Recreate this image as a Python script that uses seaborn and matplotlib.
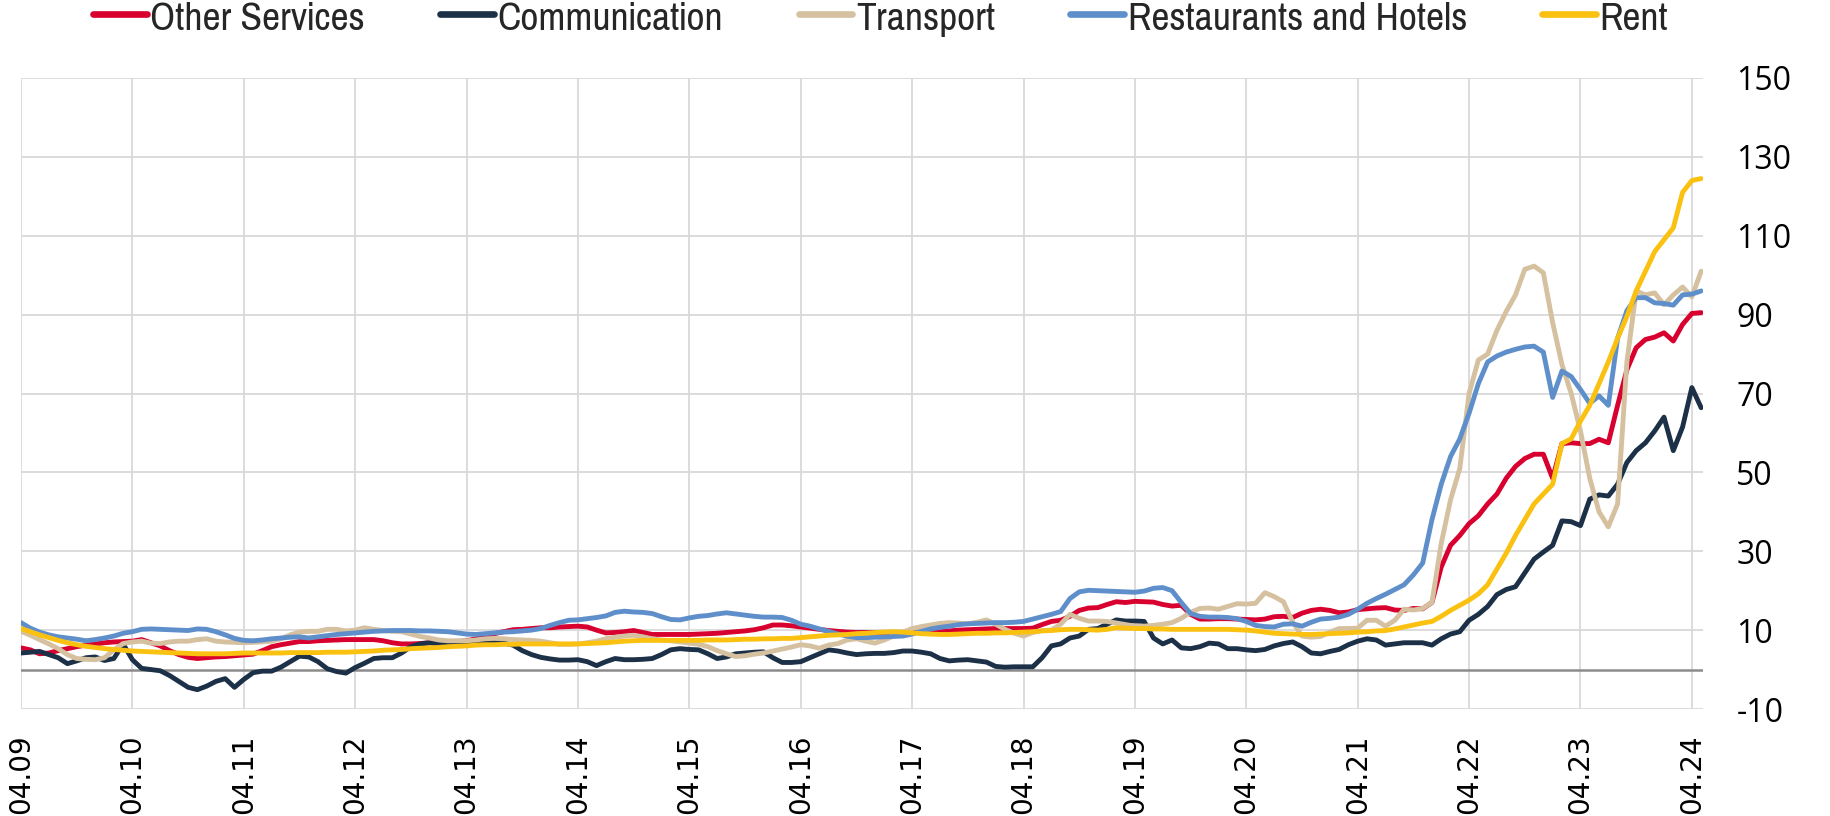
import numpy as np
import pandas as pd
import matplotlib
matplotlib.use("Agg")
import matplotlib.pyplot as plt
from matplotlib import font_manager as fm
import seaborn as sns

# ---------------- data (monthly, 04.09 .. 05.24) ----------------
start_month = "2009-04"
n_months = 182

other_services = [
    5.5, 5.0, 4.0, 4.2, 4.8, 5.3, 5.8, 6.2, 6.5, 6.8, 7.0, 7.1,
    7.2, 7.6, 6.8, 6.0, 4.8, 3.8, 3.1, 2.8, 3.0, 3.2, 3.3, 3.5,
    3.7, 3.9, 4.8, 5.8, 6.3, 6.7, 7.1, 7.1, 7.3, 7.4, 7.5, 7.6,
    7.6, 7.6, 7.6, 7.3, 6.8, 6.5, 6.5, 6.6, 6.8, 6.9, 7.0, 7.1,
    7.3, 7.8, 8.5, 9.1, 9.6, 10.1, 10.2, 10.4, 10.6, 10.6, 10.8, 10.9,
    11.0, 10.8, 10.0, 9.3, 9.4, 9.6, 9.9, 9.4, 8.9, 8.9, 8.9, 8.9,
    8.9, 9.0, 9.1, 9.2, 9.4, 9.6, 9.8, 10.1, 10.6, 11.3, 11.3, 11.1,
    10.8, 10.5, 10.2, 9.9, 9.7, 9.5, 9.4, 9.4, 9.4, 9.3, 9.3, 9.3,
    9.4, 9.5, 9.6, 9.6, 9.8, 10.0, 10.1, 10.2, 10.3, 10.4, 10.4, 10.4,
    10.4, 10.5, 11.4, 12.2, 12.5, 13.5, 15.0, 15.6, 15.7, 16.5, 17.2, 17.0,
    17.3, 17.2, 17.1, 16.5, 16.1, 16.3, 14.0, 12.8, 12.8, 12.9, 12.9, 12.8,
    12.7, 12.6, 12.8, 13.4, 13.5, 13.2, 14.3, 15.0, 15.3, 15.0, 14.4, 14.6,
    15.2, 15.4, 15.6, 15.7, 15.1, 15.0, 15.5, 15.4, 17.0, 26.0, 31.5, 34.0,
    37.0, 39.0, 42.0, 44.5, 48.5, 51.5, 53.5, 54.6, 54.6, 48.5, 57.3, 57.5,
    57.3, 57.3, 58.4, 57.5, 67.0, 76.0, 81.6, 83.7, 84.3, 85.4, 83.3, 87.5,
    90.3, 90.5,
]

communication = [
    4.2, 4.4, 4.6, 3.8, 3.0, 1.5, 2.2, 3.0, 3.2, 2.3, 2.8, 6.5,
    2.5, 0.3, 0.0, -0.3, -1.5, -3.0, -4.5, -5.1, -4.2, -3.0, -2.3, -4.5,
    -2.5, -0.8, -0.4, -0.4, 0.6, 2.0, 3.4, 3.2, 2.0, 0.2, -0.5, -0.9,
    0.5, 1.6, 2.8, 3.0, 3.0, 4.2, 5.8, 6.5, 6.8, 6.5, 6.4, 6.6,
    6.8, 7.0, 7.2, 7.0, 6.7, 6.2, 4.8, 3.8, 3.1, 2.7, 2.4, 2.4,
    2.5, 2.0, 1.0, 2.0, 2.8, 2.5, 2.5, 2.6, 2.8, 3.8, 5.0, 5.3,
    5.1, 5.0, 4.0, 2.8, 3.2, 4.0, 4.2, 4.4, 4.5, 3.0, 1.8, 1.8,
    2.0, 3.0, 4.0, 5.0, 4.7, 4.2, 3.8, 4.0, 4.1, 4.1, 4.3, 4.7,
    4.7, 4.4, 4.0, 2.8, 2.2, 2.4, 2.5, 2.2, 1.9, 0.8, 0.6, 0.7,
    0.7, 0.7, 3.0, 6.0, 6.5, 8.0, 8.5, 10.2, 10.4, 11.5, 12.6, 12.3,
    12.3, 12.2, 8.0, 6.5, 7.5, 5.5, 5.3, 5.8, 6.7, 6.5, 5.3, 5.3,
    5.0, 4.8, 5.1, 6.0, 6.6, 7.0, 5.8, 4.2, 4.0, 4.6, 5.1, 6.3,
    7.2, 7.8, 7.5, 6.2, 6.5, 6.8, 6.8, 6.8, 6.2, 7.8, 9.0, 9.6,
    12.5, 14.0, 16.0, 19.0, 20.3, 21.0, 24.5, 28.0, 29.8, 31.5, 37.7, 37.5,
    36.5, 43.2, 44.3, 44.0, 47.0, 52.5, 55.5, 57.5, 60.5, 64.0, 55.5, 61.5,
    71.5, 66.4,
]

transport = [
    9.7, 8.7, 7.6, 6.5, 5.3, 3.8, 2.8, 2.6, 2.5, 3.0, 5.0, 6.6,
    7.0, 7.2, 6.7, 6.6, 7.0, 7.2, 7.2, 7.6, 7.8, 7.2, 7.0, 6.9,
    6.8, 6.9, 7.0, 7.2, 7.8, 8.8, 9.5, 9.7, 9.7, 10.2, 10.2, 9.8,
    10.0, 10.6, 10.2, 9.9, 9.7, 9.6, 9.0, 8.4, 8.0, 7.5, 7.3, 7.3,
    7.3, 7.5, 7.8, 7.9, 7.8, 7.6, 7.5, 7.4, 7.2, 6.8, 6.4, 6.4,
    6.5, 6.8, 7.2, 7.8, 8.2, 8.5, 8.7, 8.3, 7.8, 7.5, 7.3, 7.0,
    6.7, 6.4, 5.8, 4.8, 4.0, 3.3, 3.5, 3.9, 4.2, 4.7, 5.2, 5.7,
    6.3, 6.0, 5.4, 6.2, 6.6, 7.5, 7.8, 7.2, 6.7, 7.5, 8.5, 9.5,
    10.4, 10.9, 11.3, 11.7, 11.9, 11.8, 11.6, 12.0, 12.6, 11.5, 10.2, 9.2,
    8.5, 9.4, 9.9, 10.0, 11.5, 14.0, 13.0, 12.3, 12.3, 12.2, 11.8, 11.4,
    11.0, 11.0, 11.2, 11.5, 11.9, 13.0, 14.5, 15.5, 15.6, 15.3, 16.0, 16.7,
    16.6, 16.8, 19.5, 18.5, 17.2, 12.0, 8.5, 8.2, 8.4, 9.5, 10.4, 10.4,
    10.5, 12.5, 12.5, 11.0, 12.5, 15.3, 15.1, 15.5, 17.0, 32.0, 43.0, 51.0,
    70.0, 78.5, 80.0, 86.0, 90.8, 95.0, 101.5, 102.3, 100.6, 88.0, 77.4, 70.0,
    60.5, 48.5, 40.0, 36.2, 42.0, 78.0, 96.0, 95.0, 95.5, 92.5, 95.0, 97.0,
    94.5, 101.0,
]

restaurants_hotels = [
    11.9, 10.5, 9.5, 8.8, 8.3, 8.0, 7.7, 7.3, 7.6, 8.0, 8.5, 9.2,
    9.6, 10.2, 10.3, 10.2, 10.1, 10.0, 9.9, 10.3, 10.2, 9.6, 8.8, 7.9,
    7.4, 7.3, 7.5, 7.8, 8.0, 8.2, 8.3, 8.0, 8.3, 8.6, 8.9, 9.1,
    9.3, 9.5, 9.7, 9.8, 9.9, 9.9, 9.9, 9.8, 9.8, 9.7, 9.6, 9.3,
    9.0, 8.9, 9.1, 9.3, 9.5, 9.6, 9.8, 10.0, 10.4, 11.2, 11.9, 12.5,
    12.6, 12.9, 13.2, 13.6, 14.5, 14.8, 14.6, 14.5, 14.2, 13.4, 12.7, 12.6,
    13.1, 13.5, 13.7, 14.1, 14.4, 14.1, 13.8, 13.5, 13.3, 13.3, 13.2, 12.5,
    11.5, 11.0, 10.3, 9.7, 9.0, 8.5, 8.1, 8.1, 8.2, 8.3, 8.4, 8.5,
    9.0, 9.7, 10.3, 10.7, 11.0, 11.4, 11.6, 11.7, 11.8, 11.9, 11.9, 12.0,
    12.2, 12.8, 13.4, 14.0, 14.7, 18.0, 19.7, 20.1, 20.0, 19.9, 19.8, 19.7,
    19.6, 19.9, 20.6, 20.8, 20.0, 17.0, 14.2, 13.5, 13.3, 13.3, 13.2, 12.9,
    12.2, 11.2, 10.9, 10.8, 11.5, 11.6, 11.0, 12.0, 12.8, 13.0, 13.3, 14.0,
    15.3, 16.8, 18.0, 19.1, 20.3, 21.5, 24.0, 27.0, 38.0, 47.0, 54.0, 58.5,
    65.0, 72.5, 78.0, 79.5, 80.5, 81.2, 81.8, 82.0, 80.5, 69.0, 75.7, 74.3,
    71.0, 67.5, 69.4, 67.0, 84.0, 91.0, 94.3, 94.3, 93.0, 92.8, 92.4, 95.0,
    95.2, 96.0,
]

rent = [
    10.4, 9.6, 8.8, 8.1, 7.4, 6.8, 6.3, 5.9, 5.6, 5.3, 5.1, 4.9,
    4.7, 4.6, 4.5, 4.4, 4.3, 4.2, 4.1, 4.0, 4.0, 4.0, 4.0, 4.1,
    4.2, 4.2, 4.2, 4.2, 4.2, 4.3, 4.3, 4.3, 4.3, 4.4, 4.4, 4.4,
    4.5, 4.6, 4.7, 4.9, 5.0, 5.1, 5.3, 5.4, 5.5, 5.6, 5.8, 5.9,
    6.0, 6.2, 6.3, 6.3, 6.4, 6.4, 6.5, 6.5, 6.5, 6.5, 6.5, 6.5,
    6.5, 6.6, 6.7, 6.8, 7.0, 7.2, 7.3, 7.4, 7.4, 7.4, 7.4, 7.4,
    7.4, 7.4, 7.5, 7.5, 7.5, 7.6, 7.7, 7.7, 7.8, 7.8, 7.9, 7.9,
    8.1, 8.3, 8.5, 8.7, 8.8, 8.9, 9.1, 9.2, 9.4, 9.5, 9.6, 9.5,
    9.3, 9.1, 9.0, 8.9, 8.9, 9.0, 9.1, 9.2, 9.2, 9.3, 9.3, 9.4,
    9.5, 9.6, 9.8, 9.9, 10.1, 10.2, 10.2, 10.1, 10.0, 10.2, 10.6, 10.5,
    10.4, 10.4, 10.3, 10.3, 10.2, 10.2, 10.2, 10.2, 10.2, 10.2, 10.2, 10.1,
    10.0, 9.8, 9.5, 9.2, 9.1, 9.0, 8.9, 8.9, 9.0, 9.1, 9.2, 9.3,
    9.5, 9.6, 9.8, 9.9, 10.3, 10.8, 11.3, 11.8, 12.2, 13.5, 15.0, 16.3,
    17.6, 19.2, 21.5, 25.5, 29.5, 34.0, 38.0, 42.0, 44.5, 47.0, 57.3, 58.5,
    63.0, 67.0, 72.5, 78.0, 84.0, 89.5, 96.0, 101.0, 106.0, 109.0, 112.0, 121.0,
    124.0, 124.5,
]

series_names = ["Other Services", "Communication", "Transport",
                "Restaurants and Hotels", "Rent"]
series_colors = ["#D8002E", "#1C3047", "#D5C19F", "#5F8FCB", "#FAC111"]
y_ticks = list(range(-10, 151, 20))

# ---------------- build frame ----------------
dates = pd.date_range(start_month, periods=n_months, freq="MS")
wide = pd.DataFrame({
    "t": np.arange(n_months),
    "Other Services": other_services,
    "Communication": communication,
    "Transport": transport,
    "Restaurants and Hotels": restaurants_hotels,
    "Rent": rent,
})
long = wide.melt(id_vars="t", var_name="series", value_name="value")

# ---------------- fonts ----------------
def find_condensed():
    best = None
    for f in fm.fontManager.ttflist:
        nm = f.name.lower()
        fn = f.fname.lower()
        if f.style != "normal":
            continue
        if "bold" in fn or "oblique" in fn or "italic" in fn or "mono" in fn:
            continue
        if "narrow" in nm or "condensed" in nm or "narrow" in fn or \
           ("condensed" in fn and "semi" not in fn) or f.stretch == "condensed":
            if best is None or ("liberation" in fn or "narrow" in fn):
                best = f.fname
    return best

cond_file = find_condensed()
legend_size = 31 if cond_file else 23
if cond_file:
    legend_prop = fm.FontProperties(fname=cond_file, size=legend_size)
else:
    legend_prop = fm.FontProperties(family="DejaVu Sans", size=legend_size)

# ---------------- figure ----------------
sns.set_theme(style="white")
W, H = 1831, 816
fig = plt.figure(figsize=(W / 100, H / 100), dpi=100)
ax = fig.add_axes([21 / W, 1 - 709 / H, (1703 - 21) / W, (709 - 78) / H])

sns.lineplot(data=long, x="t", y="value", hue="series", hue_order=series_names,
             palette=dict(zip(series_names, series_colors)), linewidth=3.5,
             estimator=None, sort=False, legend=False, ax=ax, zorder=3)
for ln in ax.get_lines():
    ln.set_solid_joinstyle("round")
    ln.set_solid_capstyle("round")

data_lines = list(ax.get_lines())[:5]

ax.axhline(0, color="#8C8C8C", lw=1.8, zorder=2)

# axes
ax.set_xlim(0, 181.2)
ax.set_ylim(-10, 150)
year_ticks = [i for i in range(n_months) if dates[i].month == 4]
ax.set_xticks(year_ticks)
ax.set_xticklabels([dates[i].strftime("%m.%y") for i in year_ticks],
                   rotation=90, fontsize=20, family="DejaVu Sans",
                   color="#000000")
ax.set_yticks(y_ticks)
ax.set_yticklabels([str(v) for v in y_ticks], fontsize=23,
                   family="Open Sans", color="#000000")
ax.yaxis.tick_right()
ax.tick_params(axis="y", length=0, pad=24)
ax.tick_params(axis="x", length=0, pad=18)
ax.grid(True, color="#D9D9D9", lw=1.3, zorder=0)
for s in ax.spines.values():
    s.set_visible(False)
ax.set_xlabel("")
ax.set_ylabel("")

leg = fig.legend(data_lines, series_names, loc="center", ncol=5,
                 bbox_to_anchor=(0.481, 0.978), frameon=False,
                 prop=legend_prop,
                 handlelength=1.25, handletextpad=0.08, columnspacing=1.75,
                 borderaxespad=0, borderpad=0)
for h in leg.get_lines():
    h.set_linewidth(4.8)
    h.set_solid_capstyle("round")

fig.savefig("out.png", dpi=100)
